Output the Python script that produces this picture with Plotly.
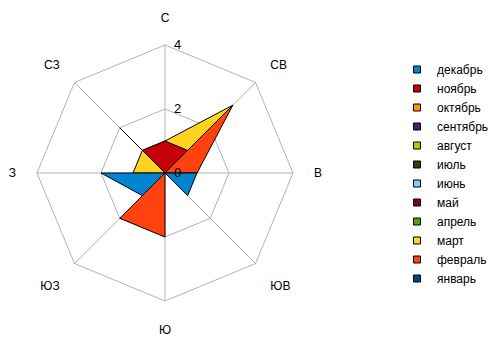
import plotly.graph_objects as go

# Wind directions (compass points, clockwise from north)
directions = ["С", "СВ", "В", "ЮВ", "Ю", "ЮЗ", "З", "СЗ"]

# Monthly values per direction
months = ["январь", "февраль", "март", "апрель", "май", "июнь",
          "июль", "август", "сентябрь", "октябрь", "ноябрь", "декабрь"]
jan = [0, 0, 0, 0, 0, 0, 0, 2]
feb = [0, 3, 1, 0, 2, 2, 0, 0]
mar = [1, 3, 0, 0, 0, 0, 1, 1]
apr = [0, 0, 0, 0, 0, 0, 0, 0]
may = [0, 0, 0, 0, 0, 0, 0, 0]
jun = [0, 0, 0, 0, 0, 0, 0, 0]
jul = [0, 0, 0, 0, 0, 0, 0, 0]
aug = [0, 0, 0, 0, 0, 0, 0, 0]
sep = [0, 0, 0, 0, 0, 0, 0, 0]
octo = [0, 0, 0, 0, 0, 0, 0, 0]
nov = [1, 1, 0, 0, 0, 0, 0, 1]
dec = [0, 0, 1, 1, 0, 1, 2, 0]
series = [jan, feb, mar, apr, may, jun, jul, aug, sep, octo, nov, dec]

colors = ["#004586", "#ff420e", "#ffd320", "#579d1c", "#7e0021", "#83caff",
          "#314004", "#aecf00", "#4b1f6f", "#ff950e", "#c5000b", "#0084d1"]

radial_ticks = [0, 2, 4]

FONT = "Liberation Sans, Arial, sans-serif"

fig = go.Figure()

# Filled polygons, January drawn first so later months lie on top
for name, vals, col in zip(months, series, colors):
    fig.add_trace(go.Scatterpolar(
        r=vals + vals[:1],
        theta=directions + directions[:1],
        mode="lines",
        fill="toself",
        fillcolor=col,
        line=dict(color="black", width=1),
        name=name,
        showlegend=False,
        hoverinfo="skip",
    ))

# Legend entries with square swatches, December at the top
for name, col in reversed(list(zip(months, colors))):
    fig.add_trace(go.Scatterpolar(
        r=[None],
        theta=[None],
        mode="markers",
        marker=dict(symbol="square", size=7, color=col,
                    line=dict(color="black", width=1)),
        name=name,
        showlegend=True,
    ))

fig.update_layout(
    width=496,
    height=338,
    margin=dict(l=0, r=0, t=0, b=0, autoexpand=False),
    paper_bgcolor="white",
    font=dict(family=FONT, size=12, color="#000000"),
    polar=dict(
        domain=dict(x=[37 / 496, 293 / 496], y=[1 - 301 / 338, 1 - 45 / 338]),
        bgcolor="white",
        gridshape="linear",
        angularaxis=dict(
            categoryorder="array",
            categoryarray=directions,
            direction="clockwise",
            rotation=90,
            showgrid=True,
            gridcolor="#b3b3b3",
            gridwidth=1,
            showline=True,
            linecolor="#b3b3b3",
            linewidth=1,
            ticks="outside",
            ticklen=18,
            tickcolor="rgba(0,0,0,0)",
            tickfont=dict(family=FONT, size=12, color="#000000"),
        ),
        radialaxis=dict(
            range=[0, 4],
            tickvals=radial_ticks,
            ticktext=[str(v) for v in radial_ticks],
            angle=90,
            tickangle=90,
            side="clockwise",
            showline=False,
            showgrid=True,
            gridcolor="#b3b3b3",
            gridwidth=1,
            ticks="outside",
            ticklen=6,
            tickcolor="rgba(0,0,0,0)",
            tickfont=dict(family=FONT, size=13, color="#000000"),
        ),
    ),
    legend=dict(
        x=397 / 496,
        y=1 - 55 / 338,
        xanchor="left",
        yanchor="top",
        traceorder="normal",
        itemwidth=30,
        font=dict(family=FONT, size=12, color="#000000"),
        bgcolor="rgba(0,0,0,0)",
    ),
)

fig.write_html("out.html")
